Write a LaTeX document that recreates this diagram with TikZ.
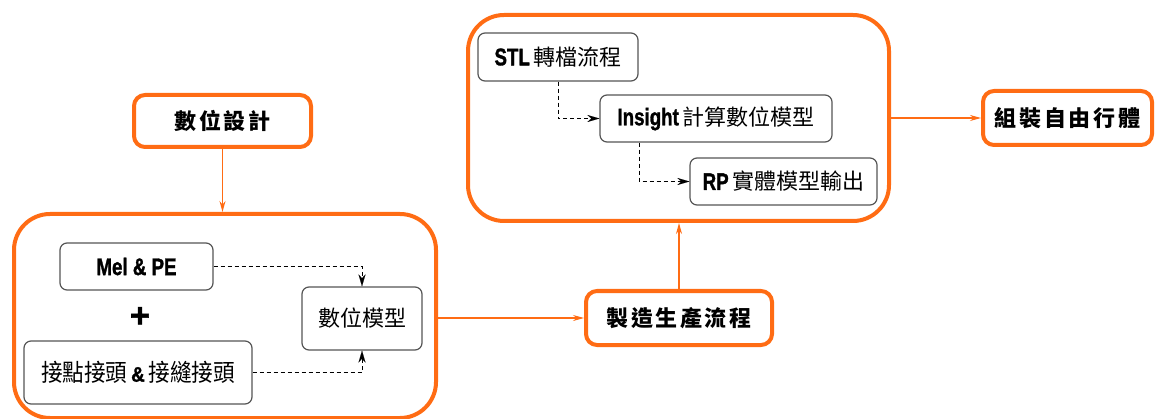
\documentclass[tikz,border=0pt]{standalone}
\usepackage{fontspec}
\usetikzlibrary{arrows.meta,calc}
\newfontfamily\cjk{Noto Sans CJK TC}
\newfontfamily\cjkb[LetterSpace=12]{Noto Sans CJK TC}
\newfontfamily\lat[FakeBold=1.5]{Liberation Sans}
\definecolor{orng}{RGB}{255,108,20}
\definecolor{gline}{RGB}{85,85,85}
\newcommand{\lt}[1]{{\lat\bfseries\fontsize{24}{26}\selectfont\scalebox{0.78}[1]{#1}}}
\tikzset{
  obig/.style={draw=orng, line width=4pt, rounded corners=36pt, inner sep=0pt},
  obox/.style={draw=orng, line width=4pt, rounded corners=11pt, inner sep=0pt, fill=white,
    font=\cjkb\bfseries\fontsize{22}{24}\selectfont},
  gbox/.style={draw=gline, line width=1.2pt, rounded corners=7pt, inner sep=0pt, fill=white,
    font=\cjk\fontsize{22}{24}\selectfont},
  oarr/.style={draw=orng, line width=1.3pt, -{Stealth[length=11pt,width=6pt]}},
  darr/.style={draw=black, line width=0.9pt, dash pattern=on 4pt off 3pt,
    -{Stealth[length=12pt,width=7pt,fill=black,line width=0.1pt]}}
}
\begin{document}
\begin{tikzpicture}[x=1pt,y=-1pt]
\useasboundingbox (0,0) rectangle (1155,419);
% big containers
\node[obig, minimum width=422pt, minimum height=204pt] (leftbig) at (225,316) {};
\node[obig, minimum width=421pt, minimum height=206pt] (topbig) at (678.5,118) {};
% orange boxes
\node[obox, minimum width=177pt, minimum height=52pt] (design) at (222.5,121) {數位設計};
\node[obox, minimum width=186pt, minimum height=54pt] (mfg) at (679,318) {製造生產流程};
\node[obox, minimum width=169pt, minimum height=54pt] (asm) at (1067.5,118) {組裝自由行體};
% inner boxes
\node[gbox, minimum width=153pt, minimum height=47pt] (mel) at (136.5,266.5) {\lt{Mel \& PE}};
\node[font=\lat\bfseries\fontsize{34}{34}\selectfont] (plus) at (140,317) {+};
\node[gbox, minimum width=228pt, minimum height=63pt] (joint) at (138,372.5) {\fontsize{24}{26}\selectfont\scalebox{0.9}[1]{接點接頭\,{\lat\bfseries\fontsize{21}{22}\selectfont\&}\,接縫接頭}};
\node[gbox, minimum width=120pt, minimum height=63pt] (model) at (362,318.5) {數位模型};
\node[gbox, minimum width=160pt, minimum height=48pt] (stl) at (558,57) {\lt{STL}\,轉檔流程};
\node[gbox, minimum width=232pt, minimum height=47pt] (ins) at (716,118.5) {\lt{Insight}\,計算數位模型};
\node[gbox, minimum width=187pt, minimum height=47pt] (rp) at (783.5,181.5) {\lt{RP}\,實體模型輸出};
% orange connectors
\draw[oarr] (design.south) -- (leftbig.north -| design.south);
\draw[oarr] (leftbig.east |- mfg.west) -- (mfg.west);
\draw[oarr] (mfg.north) -- (topbig.south -| mfg.north);
\draw[oarr] (topbig.east) -- (asm.west);
% dashed connectors
\draw[darr] (mel.east) -| (model.north);
\draw[darr] (joint.east) -| (model.south);
\draw[darr] (stl.south) |- (ins.west);
\coordinate (insb) at ($(ins.south west)+(40,0)$);
\draw[darr] (insb) |- (rp.west);
\end{tikzpicture}
\end{document}
